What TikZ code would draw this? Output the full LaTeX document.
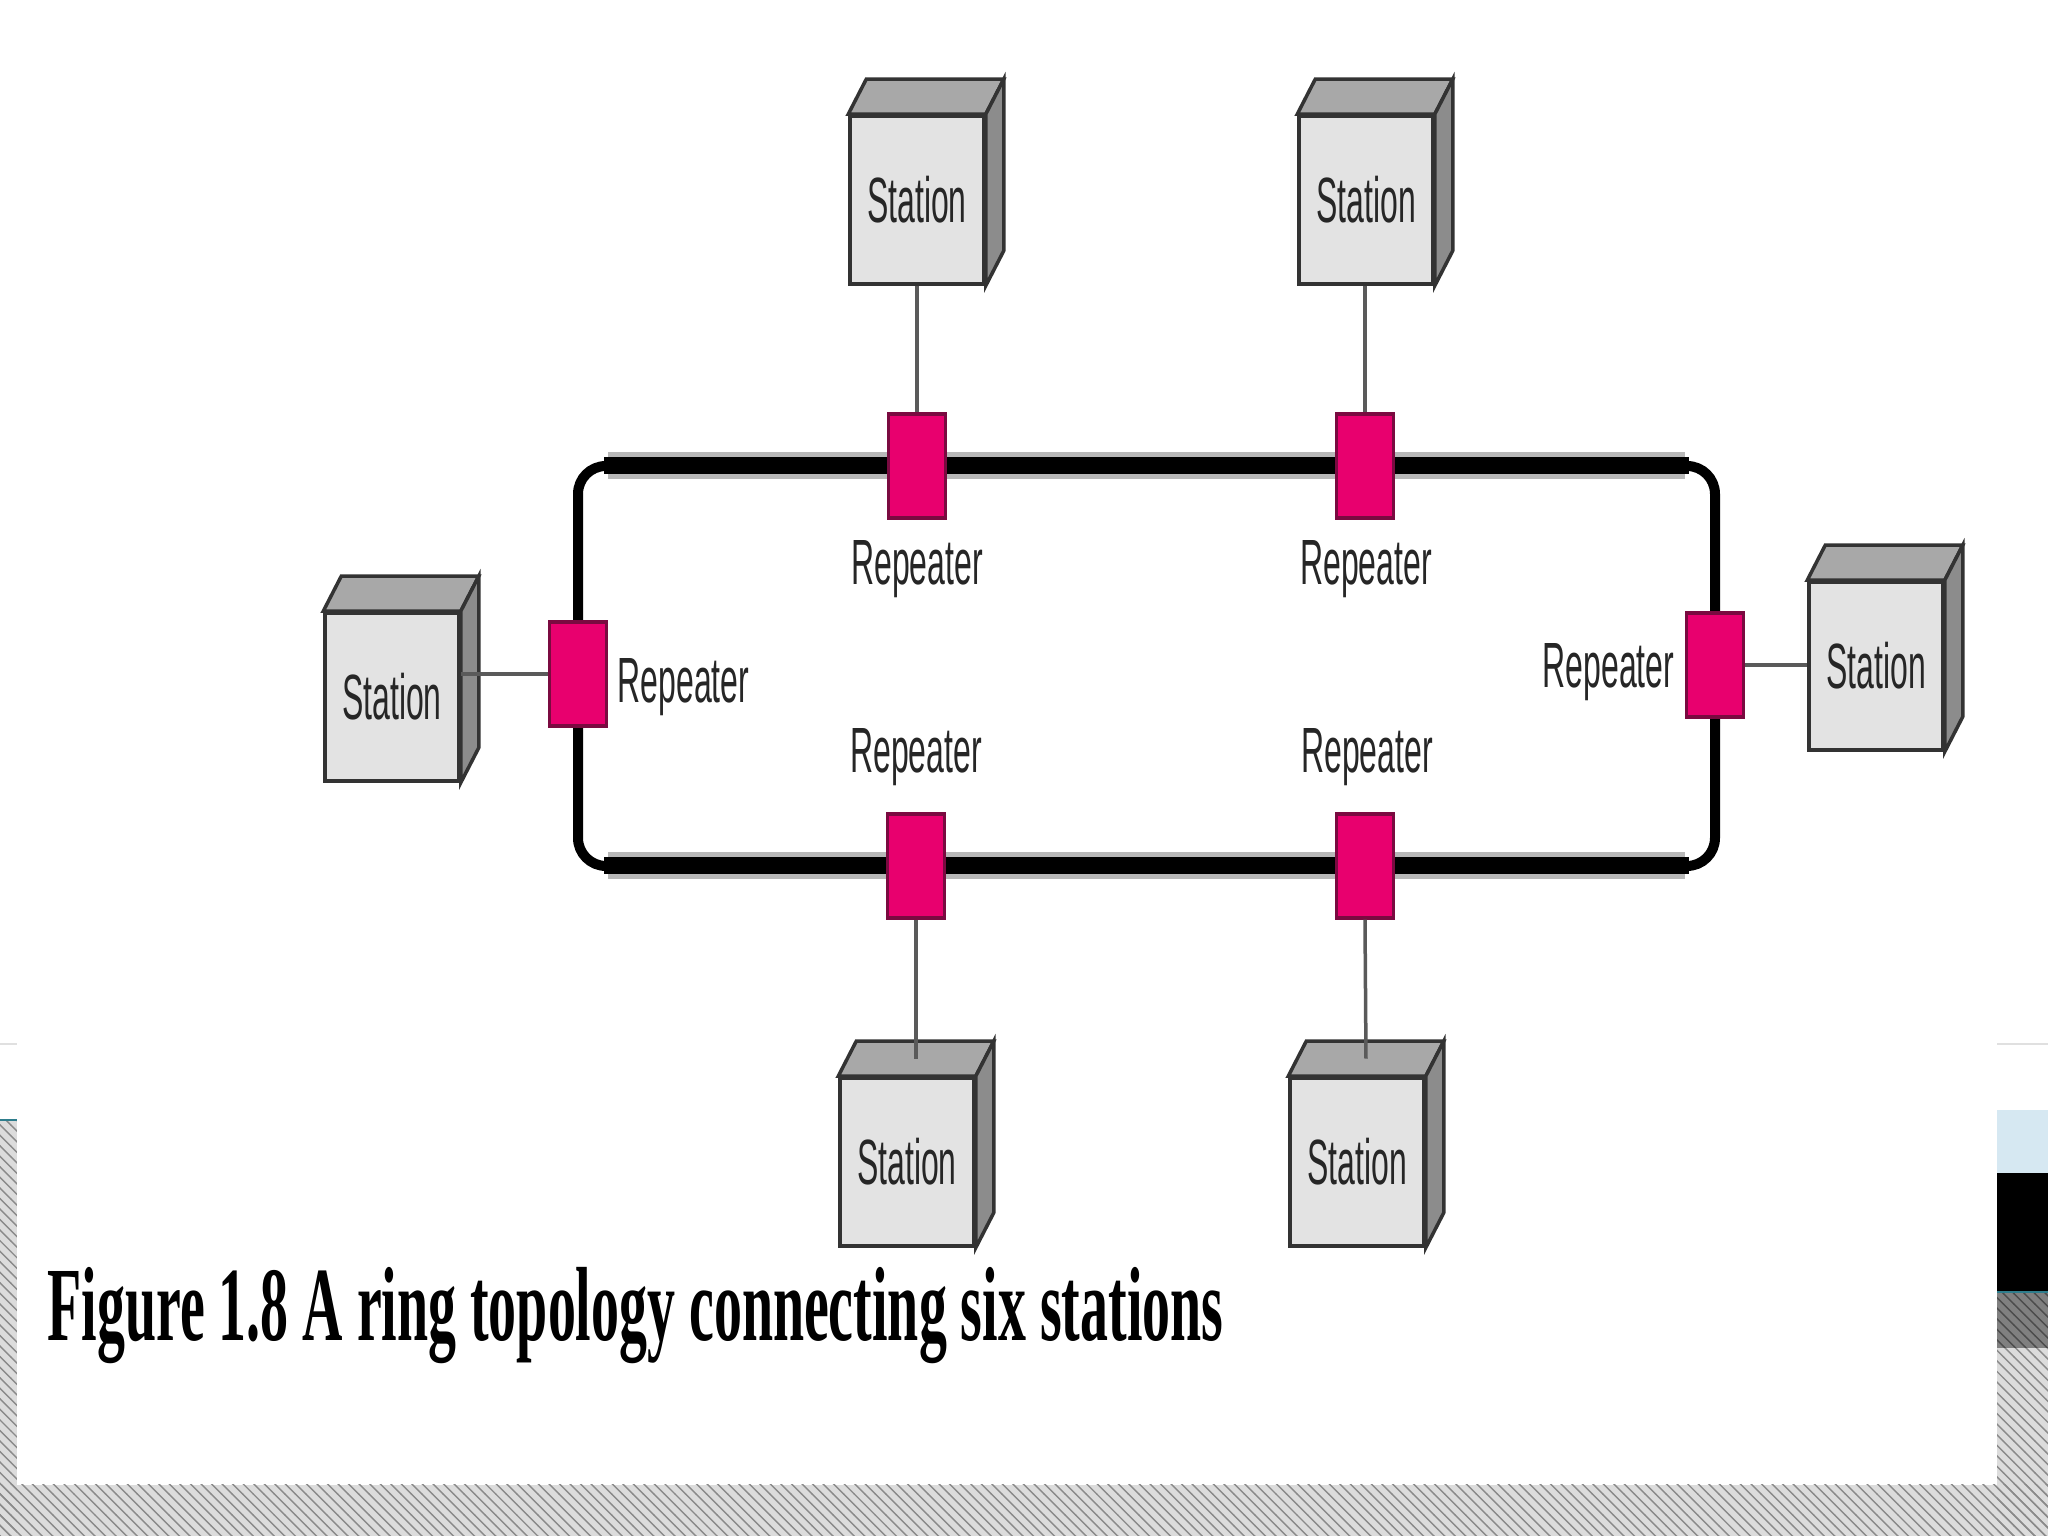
\documentclass[tikz,border=0pt]{standalone}
\usepackage{fontspec}
\newfontfamily\labelfont[FakeStretch=0.5]{Liberation Sans}
\newfontfamily\captionfont[FakeStretch=0.53]{Liberation Serif}
\usepackage{tikz}
\usetikzlibrary{positioning, patterns, backgrounds}

\definecolor{stationfront}{HTML}{E3E3E3}
\definecolor{stationroof}{HTML}{A8A8A8}
\definecolor{stationwall}{HTML}{8C8C8C}
\definecolor{edgegray}{HTML}{333333}
\definecolor{repeaterpink}{HTML}{E8006E}
\definecolor{repeaterborder}{HTML}{7A0A40}
\definecolor{linkgray}{HTML}{5A5A5A}
\definecolor{ringhalo}{HTML}{B8B8B8}
\definecolor{stripgray}{HTML}{DCDCDC}
\definecolor{stripdark}{HTML}{808080}
\definecolor{stripblue}{HTML}{D6E8F2}
\definecolor{hatchgray}{HTML}{8A8A8A}
\definecolor{stripteal}{HTML}{2E7D8C}

\begin{document}
\begin{tikzpicture}[
    station/.style={rectangle, draw=edgegray, line width=1pt, fill=stationfront,
                    minimum width=1.34cm, minimum height=1.68cm, inner sep=0pt,
                    text=black!85, font=\labelfont\fontsize{18.2}{20}\selectfont},
    stationtop/.style={draw=edgegray, line width=1pt, fill=stationroof},
    stationside/.style={draw=edgegray, line width=1pt, fill=stationwall},
    repeater/.style={rectangle, draw=repeaterborder, line width=1pt, fill=repeaterpink,
                     minimum width=0.57cm, minimum height=1.04cm, inner sep=0pt},
    replabel/.style={inner sep=0pt, text=black!85, font=\labelfont\fontsize{18.2}{20}\selectfont},
    link/.style={draw=linkgray, line width=0.035cm},
    ringline/.style={line width=0.1cm, rounded corners=0.28cm}
]

    \useasboundingbox (0,0) rectangle (20.48,15.36);
    \begin{scope}[on background layer]
        \fill[white] (0,0) rectangle (20.48,15.36);
    \end{scope}

    % Slide frame
    \fill[stripgray] (0,0) rectangle (20.48,0.51);
    \fill[stripgray] (0,0) rectangle (0.17,4.16);
    \fill[stripgray] (19.97,0) rectangle (20.48,1.88);
    \fill[stripdark] (19.97,1.88) rectangle (20.48,2.44);
    \fill[pattern=north west lines, pattern color=hatchgray] (0,0) rectangle (20.48,0.51);
    \fill[pattern=north west lines, pattern color=hatchgray] (0,0) rectangle (0.17,4.16);
    \fill[pattern=north west lines, pattern color=hatchgray] (19.97,0) rectangle (20.48,1.88);
    \fill[pattern=north west lines, pattern color=black!70] (19.97,1.88) rectangle (20.48,2.44);
    \fill[black] (19.97,2.44) rectangle (20.48,3.63);
    \fill[stripblue] (19.97,3.63) rectangle (20.48,4.26);
    \draw[stripteal, line width=0.02cm] (0,4.16) -- (0.17,4.16);
    \draw[stripteal, line width=0.02cm] (19.97,2.44) -- (20.48,2.44);
    \draw[black!12, line width=0.02cm] (0,4.92) -- (0.17,4.92);
    \draw[black!12, line width=0.02cm] (19.97,4.92) -- (20.48,4.92);

    % Stations
    \node[station] (s1) at (9.17,13.36) {Station};
    \node[station] (s2) at (13.66,13.36) {Station};
    \node[station] (s3) at (3.92,8.39) {Station};
    \node[station] (s4) at (18.76,8.70) {Station};
    \node[station] (s5) at (9.07,3.74) {Station};
    \node[station] (s6) at (13.57,3.74) {Station};

    \foreach \s in {s1,s2,s3,s4,s5,s6} {
        \filldraw[stationtop] (\s.north west) -- ([shift={(0.18,0.35)}]\s.north west)
            -- ([shift={(0.18,0.35)}]\s.north east) -- (\s.north east) -- cycle;
        \filldraw[stationside] (\s.north east) -- ([shift={(0.18,0.35)}]\s.north east)
            -- ([shift={(0.18,0.35)}]\s.south east) -- (\s.south east) -- cycle;
    }

    % Repeaters
    \node[repeater] (r1) at (9.17,10.70) {};
    \node[repeater] (r2) at (13.65,10.70) {};
    \node[repeater] (r3) at (5.78,8.62) {};
    \node[repeater] (r4) at (17.15,8.71) {};
    \node[repeater] (r5) at (9.16,6.70) {};
    \node[repeater] (r6) at (13.65,6.70) {};

    \node[replabel, anchor=base] (l1) at (9.17,9.51) {Repeater};
    \node[replabel, anchor=base] (l2) at (13.66,9.51) {Repeater};
    \node[replabel, anchor=base west] (l3) at (6.17,8.33) {Repeater};
    \node[replabel, anchor=base east] (l4) at (16.75,8.48) {Repeater};
    \node[replabel, anchor=base] (l5) at (9.16,7.63) {Repeater};
    \node[replabel, anchor=base] (l6) at (13.67,7.63) {Repeater};

    % Ring
    \begin{scope}[on background layer]
        \draw[ringhalo, line width=0.27cm, shorten <=0.3cm, shorten >=0.3cm]
            (r3.center |- r1.center) -- (r4.center |- r2.center);
        \draw[ringhalo, line width=0.27cm, shorten <=0.3cm, shorten >=0.3cm]
            (r3.center |- r5.center) -- (r4.center |- r6.center);
        \draw[ringline] (r1.center) -| (r4.center) |- (r5.center) -| (r3.center) |- (r1.center);
        \draw[line width=0.17cm, shorten <=0.26cm, shorten >=0.26cm]
            (r3.center |- r1.center) -- (r4.center |- r2.center);
        \draw[line width=0.17cm, shorten <=0.26cm, shorten >=0.26cm]
            (r3.center |- r5.center) -- (r4.center |- r6.center);
    \end{scope}

    % Station links
    \draw[link] (s1.south) -- (r1.north);
    \draw[link] (r2.north |- s2.south) -- (r2.north);
    \draw[link] (r3.west) -- (r3.west -| s3.east);
    \draw[link] (r4.east) -- (r4.east -| s4.west);
    \draw[link] (r5.south) -- ([shift={(0.09,0.175)}]s5.north);
    \draw[link] (r6.south) -- ([shift={(0.09,0.175)}]s6.north);

    % Caption
    \node[anchor=base west, inner sep=0pt, font=\captionfont\bfseries\fontsize{30}{34}\selectfont]
        (cap) at (0.47,1.95) {Figure 1.8 A ring topology connecting six stations};

\end{tikzpicture}
\end{document}
